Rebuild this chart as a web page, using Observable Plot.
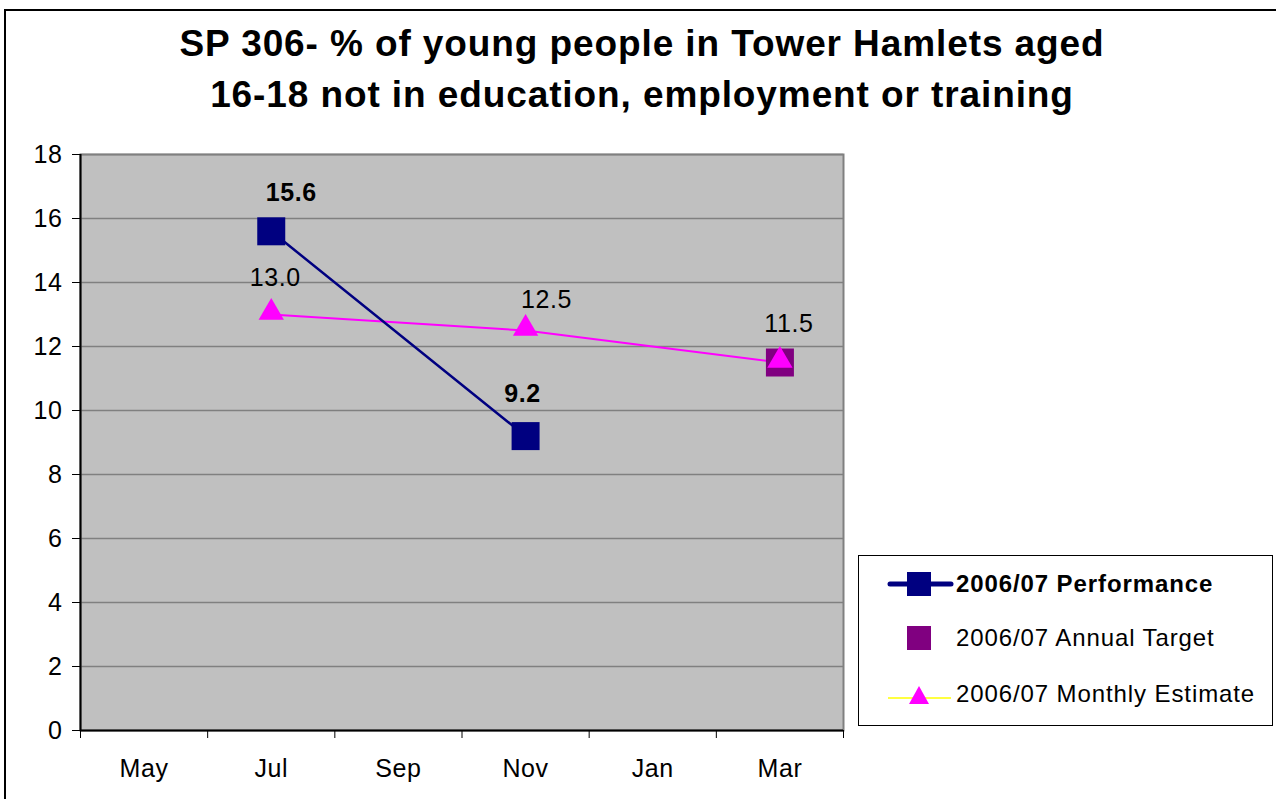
<!DOCTYPE html>
<html>
<head>
<meta charset="utf-8">
<script src="https://cdn.jsdelivr.net/npm/d3@7"></script>
<script src="https://cdn.jsdelivr.net/npm/@observablehq/plot@0.6"></script>
<style>
  body { margin: 0; background: #fff; font-family: "Liberation Sans", Arial, sans-serif; }
  #wrap { position: relative; width: 1276px; height: 799px; overflow: hidden; background: #fff; }
  #border { position: absolute; left: 4px; top: 9px; right: -10px; bottom: -10px; border-left: 2px solid #000; border-top: 2px solid #000; }
  #title { position: absolute; left: 0; top: 0; width: 1284px; height: 140px; text-align: center; font-weight: bold; font-size: 37px; letter-spacing: 0.9px; line-height: 51px; padding-top: 18px; box-sizing: border-box; color: #000; }
  #chart { position: absolute; left: 0; top: 140px; }
  #legend { position: absolute; left: 858px; top: 555px; width: 413px; height: 169px; border: 1px solid #000; background: #fff; }
  .row { position: absolute; left: 0; width: 413px; height: 40px; }
  .row svg { position: absolute; left: 0; top: 0; }
  .row span { position: absolute; left: 97px; top: 0; line-height: 40px; font-size: 24px; letter-spacing: 0.9px; white-space: nowrap; color: #000; }
</style>
</head>
<body>
<div id="wrap">
  <div id="border"></div>
  <div id="title">SP 306- % of young people in Tower Hamlets aged<br>16-18 not in education, employment or training</div>
  <div id="chart"></div>
  <div id="legend"></div>
</div>
<script>
const months = ["May", "Jul", "Sep", "Nov", "Jan", "Mar"];
const perfMonths = ["Jul", "Nov"];
const perfValues = [15.6, 9.2];
const targetMonths = ["Mar"];
const targetValues = [11.5];
const estMonths = ["Jul", "Nov", "Mar"];
const estValues = [13.0, 12.5, 11.5];
const yTicks = [0, 2, 4, 6, 8, 10, 12, 14, 16, 18];
const seriesNames = ["2006/07 Performance", "2006/07 Annual Target", "2006/07 Monthly Estimate"];

const pos = m => months.indexOf(m) + 0.5;
const perf = perfMonths.map((m, i) => ({x: pos(m), y: perfValues[i], label: perfValues[i].toFixed(1)}));
const target = targetMonths.map((m, i) => ({x: pos(m), y: targetValues[i]}));
const est = estMonths.map((m, i) => ({x: pos(m), y: estValues[i], label: estValues[i].toFixed(1)}));

const font = "Liberation Sans, Arial, sans-serif";
const navy = "#000080", magenta = "#ff00ff", purple = "#800080";
const fs = 25;

const plot = Plot.plot({
  width: 1276,
  height: 659,
  marginLeft: 80,
  marginRight: 433,
  marginTop: 14,
  marginBottom: 69,
  style: {fontFamily: font, fontSize: "25px", letterSpacing: "0.6px", color: "#000", background: "transparent"},
  x: {domain: [0, 6]},
  y: {domain: [0, 18]},
  marks: [
    Plot.frame({fill: "#c0c0c0", stroke: "#808080", strokeWidth: 2}),
    Plot.ruleY(yTicks.filter(d => d > 0), {stroke: "#808080", strokeWidth: 1.5}),
    Plot.ruleX([0], {stroke: "#000", strokeWidth: 2}),
    Plot.ruleY([0], {stroke: "#000", strokeWidth: 2}),
    Plot.axisY({ticks: yTicks, tickSize: 8, tickPadding: 10, fontSize: fs, label: null, stroke: "#000"}),
    Plot.axisX({ticks: [0, 1, 2, 3, 4, 5, 6], tickSize: 8, tickFormat: () => "", label: null, stroke: "#000"}),
    Plot.axisX({ticks: months.map((m, i) => i + 0.5), tickSize: 0, tickPadding: 29, tickFormat: d => months[Math.floor(d)], fontSize: fs, label: null}),
    Plot.line(est, {x: "x", y: "y", stroke: magenta, strokeWidth: 2}),
    Plot.line(perf, {x: "x", y: "y", stroke: navy, strokeWidth: 2.5}),
    Plot.dot(target, {x: "x", y: "y", symbol: "square", r: 15.8, fill: purple, stroke: null}),
    Plot.dot(perf, {x: "x", y: "y", symbol: "square", r: 15.8, fill: navy, stroke: null}),
    Plot.dot(est, {x: "x", y: "y", symbol: "triangle", r: 9.4, fill: magenta, stroke: null, dy: -2}),
    // data labels
    Plot.text(perf.filter(d => d.x === pos("Jul")), {x: "x", y: "y", text: "label", dy: -38, dx: 20, fontWeight: "bold", fontSize: fs, fill: "#000"}),
    Plot.text(perf.filter(d => d.x === pos("Nov")), {x: "x", y: "y", text: "label", dy: -42, dx: -3, fontWeight: "bold", fontSize: fs, fill: "#000"}),
    Plot.text(est.filter(d => d.x === pos("Jul")), {x: "x", y: "y", text: "label", dy: -37, dx: 4, fontSize: fs, fill: "#000"}),
    Plot.text(est.filter(d => d.x === pos("Nov")), {x: "x", y: "y", text: "label", dy: -31, dx: 21, fontSize: fs, fill: "#000"}),
    Plot.text(est.filter(d => d.x === pos("Mar")), {x: "x", y: "y", text: "label", dy: -39, dx: 9, fontSize: fs, fill: "#000"})
  ]
});
document.getElementById("chart").appendChild(plot);

// legend
const legend = document.getElementById("legend");
const rowsTop = [8, 62, 118];
const symbols = [
  `<svg width="97" height="40"><line x1="31" y1="20" x2="92" y2="20" stroke="${navy}" stroke-width="5" stroke-linecap="round"/><rect x="48" y="8" width="24" height="24" fill="${navy}"/></svg>`,
  `<svg width="97" height="40"><rect x="48" y="8" width="24" height="24" fill="${purple}"/></svg>`,
  `<svg width="97" height="40"><line x1="29" y1="24" x2="92" y2="24" stroke="#ffff00" stroke-width="1.5"/><path d="M60,12 L70,30 L50,30 Z" fill="${magenta}"/></svg>`
];
seriesNames.forEach((name, i) => {
  const row = document.createElement("div");
  row.className = "row";
  row.style.top = rowsTop[i] + "px";
  row.innerHTML = symbols[i] + `<span style="font-weight:${i === 0 ? "bold" : "normal"}">${name}</span>`;
  legend.appendChild(row);
});
</script>
</body>
</html>
